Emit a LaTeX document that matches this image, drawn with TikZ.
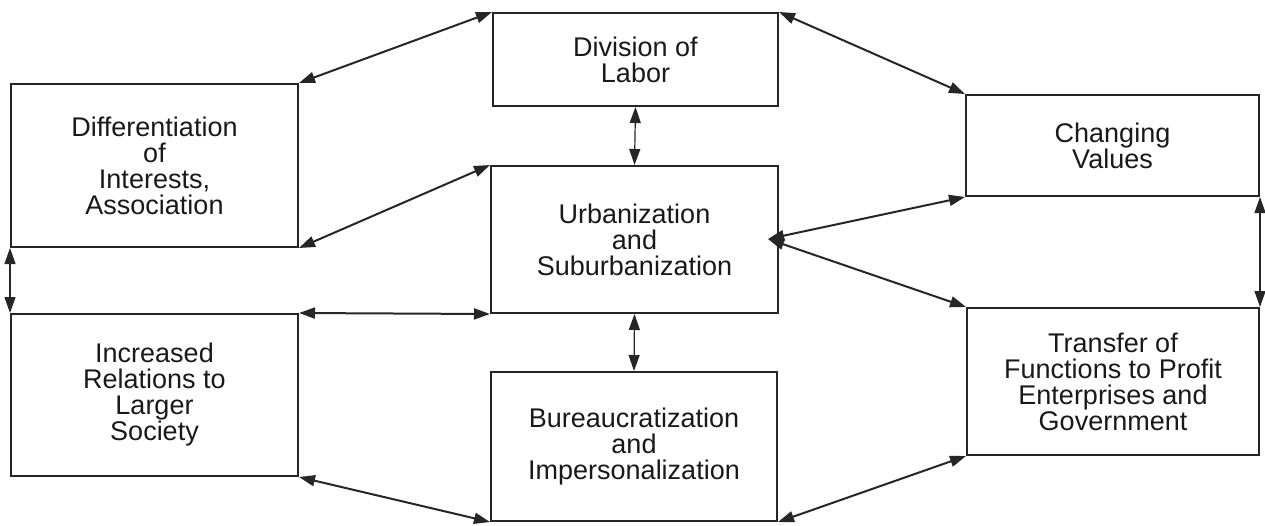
\documentclass[tikz,border=0pt]{standalone}
\usepackage{fontspec}
\setmainfont{Liberation Sans}
\usetikzlibrary{arrows.meta}
\tikzset{
  box/.style={draw, line width=2pt, align=center, inner sep=0pt,
    font=\fontsize{27}{26}\selectfont, text=black!90},
  link/.style={line width=2pt, {Triangle[length=16pt,width=11pt]}-{Triangle[length=16pt,width=11pt]}},
  thinlink/.style={line width=1.2pt, {Triangle[length=16pt,width=11pt]}-{Triangle[length=16pt,width=11pt]}}
}
\begin{document}
\begin{tikzpicture}[x=1pt,y=-1pt, draw=black!85, fill=black!85]
\useasboundingbox (0,0) rectangle (1265,525);
\node[box, minimum width=285pt, minimum height=93pt] (div) at (635.5,59.5) {Division of\\Labor};
\node[box, minimum width=287pt, minimum height=163pt] (diff) at (154.5,165.5) {Differentiation\\of\\Interests,\\Association};
\node[box, minimum width=293pt, minimum height=101pt] (chg) at (1112.5,145.5) {Changing\\Values};
\node[box, minimum width=287pt, minimum height=147pt] (urb) at (634.5,239.5) {Urbanization\\and\\Suburbanization};
\node[box, minimum width=287pt, minimum height=162pt] (inc) at (154.5,395) {Increased\\Relations to\\Larger\\Society};
\node[box, minimum width=292pt, minimum height=147pt] (trans) at (1113,381.5) {Transfer of\\Functions to Profit\\Enterprises and\\Government};
\node[box, minimum width=286pt, minimum height=149pt] (bur) at (634,446.5) {Bureaucratization\\and\\Impersonalization};
\coordinate (ur) at (768,239);
\draw[link] (div.north west) -- (diff.north east);
\draw[link] (div.north east) -- (chg.north west);
\draw[thinlink] (div.south) -- (urb.north);
\draw[link] (urb.north west) -- (diff.south east);
\draw[link] (ur) -- (chg.south west);
\draw[link] (ur) -- (trans.north west);
\draw[thinlink] (diff.south west) -- (inc.north west);
\draw[link] (inc.north east) -- (urb.south west);
\draw[thinlink] (urb.south) -- (bur.north);
\draw[thinlink] (chg.south east) -- (trans.north east);
\draw[link] (inc.south east) -- (bur.south west);
\draw[link] (bur.south east) -- (trans.south west);
\end{tikzpicture}
\end{document}
